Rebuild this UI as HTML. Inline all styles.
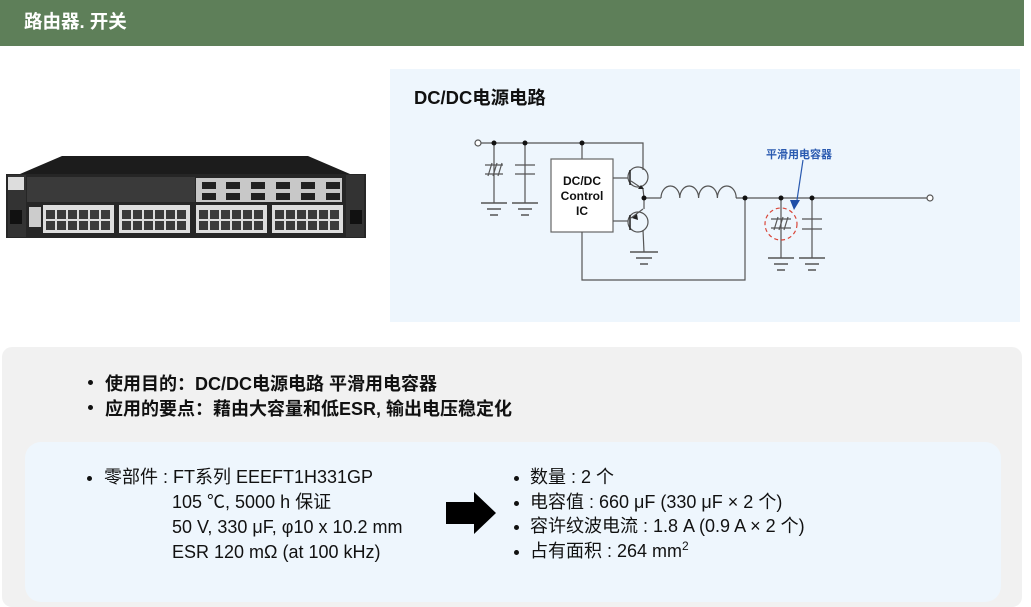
<!DOCTYPE html>
<html><head><meta charset="utf-8"><style>
body{margin:0;width:1031px;height:590px;background:#fff;position:relative;overflow:hidden;font-family:"Liberation Sans","Noto Sans CJK SC",sans-serif}
.a{position:absolute}
.hdr{left:0;top:0;width:1024px;height:46px;background:#5e7f59;color:#fff;font-weight:bold;font-size:18.5px;line-height:44px;padding-left:24px;box-sizing:border-box}
.cp{left:390px;top:69px;width:630px;height:253px;background:#eef6fd}
.gp{left:2px;top:347px;width:1020px;height:260px;background:#f1f1f1;border-radius:10px}
.bp{left:25px;top:442px;width:976px;height:160px;background:#eef6fd;border-radius:16px}
.t{font-size:18px;color:#111;white-space:nowrap}
.b{font-weight:bold}
.dot{position:absolute;width:5px;height:5px;border-radius:50%;background:#111}
</style></head><body>
<div class="a hdr">路由器. 开关</div>
<div class="a cp"></div>
<div class="a gp"></div>
<div class="a bp"></div>

<!-- router -->
<svg class="a" style="left:0;top:150px" width="372" height="92">
<polygon points="62,6 308,6 350,24 20,24" fill="#1c1c1c"/>
<rect x="6" y="24" width="360" height="64" fill="#262626"/>
<rect x="8" y="25" width="18" height="62" fill="#333"/>
<rect x="346" y="25" width="18" height="62" fill="#333"/>
<rect x="8" y="27" width="16" height="13" fill="#ddd"/>
<rect x="27" y="27" width="168" height="25" fill="#3a3a3a"/>
<rect x="196" y="28" width="146" height="24" fill="#c8c8c8"/>
<g fill="#222"><rect x="202" y="32" width="14" height="7"/><rect x="226" y="32" width="14" height="7"/><rect x="251" y="32" width="14" height="7"/><rect x="276" y="32" width="14" height="7"/><rect x="301" y="32" width="14" height="7"/><rect x="326" y="32" width="14" height="7"/>
<rect x="202" y="43" width="14" height="7"/><rect x="226" y="43" width="14" height="7"/><rect x="251" y="43" width="14" height="7"/><rect x="276" y="43" width="14" height="7"/><rect x="301" y="43" width="14" height="7"/><rect x="326" y="43" width="14" height="7"/></g>
<rect x="43" y="55" width="71" height="28" fill="#ddd"/><rect x="119" y="55" width="71" height="28" fill="#ddd"/>
<rect x="196" y="55" width="71" height="28" fill="#ddd"/><rect x="272" y="55" width="71" height="28" fill="#ddd"/>
<g fill="#3a3a3a">
<rect x="46" y="60" width="9" height="9"/><rect x="57" y="60" width="9" height="9"/><rect x="68" y="60" width="9" height="9"/><rect x="79" y="60" width="9" height="9"/><rect x="90" y="60" width="9" height="9"/><rect x="101" y="60" width="9" height="9"/>
<rect x="46" y="71" width="9" height="9"/><rect x="57" y="71" width="9" height="9"/><rect x="68" y="71" width="9" height="9"/><rect x="79" y="71" width="9" height="9"/><rect x="90" y="71" width="9" height="9"/><rect x="101" y="71" width="9" height="9"/>
<rect x="122" y="60" width="9" height="9"/><rect x="133" y="60" width="9" height="9"/><rect x="144" y="60" width="9" height="9"/><rect x="155" y="60" width="9" height="9"/><rect x="166" y="60" width="9" height="9"/><rect x="177" y="60" width="9" height="9"/>
<rect x="122" y="71" width="9" height="9"/><rect x="133" y="71" width="9" height="9"/><rect x="144" y="71" width="9" height="9"/><rect x="155" y="71" width="9" height="9"/><rect x="166" y="71" width="9" height="9"/><rect x="177" y="71" width="9" height="9"/>
<rect x="199" y="60" width="9" height="9"/><rect x="210" y="60" width="9" height="9"/><rect x="221" y="60" width="9" height="9"/><rect x="232" y="60" width="9" height="9"/><rect x="243" y="60" width="9" height="9"/><rect x="254" y="60" width="9" height="9"/>
<rect x="199" y="71" width="9" height="9"/><rect x="210" y="71" width="9" height="9"/><rect x="221" y="71" width="9" height="9"/><rect x="232" y="71" width="9" height="9"/><rect x="243" y="71" width="9" height="9"/><rect x="254" y="71" width="9" height="9"/>
<rect x="275" y="60" width="9" height="9"/><rect x="286" y="60" width="9" height="9"/><rect x="297" y="60" width="9" height="9"/><rect x="308" y="60" width="9" height="9"/><rect x="319" y="60" width="9" height="9"/><rect x="330" y="60" width="9" height="9"/>
<rect x="275" y="71" width="9" height="9"/><rect x="286" y="71" width="9" height="9"/><rect x="297" y="71" width="9" height="9"/><rect x="308" y="71" width="9" height="9"/><rect x="319" y="71" width="9" height="9"/><rect x="330" y="71" width="9" height="9"/></g>
<rect x="29" y="57" width="12" height="20" fill="#ccc"/>
<rect x="10" y="60" width="12" height="14" fill="#111"/><rect x="350" y="60" width="12" height="14" fill="#111"/>
</svg>

<!-- circuit -->
<div class="a b" style="left:414px;top:84px;font-size:18.4px;color:#111">DC/DC电源电路</div>
<svg class="a" style="left:0;top:0" width="1031" height="330" fill="none" stroke="#555" stroke-width="1.2">
<polyline points="480,143 643,143 643,170"/>
<circle cx="478" cy="143" r="3" fill="#fff"/>
<line x1="494" y1="143" x2="494" y2="203"/><line x1="525" y1="143" x2="525" y2="203"/>
<line x1="485" y1="165" x2="503" y2="165"/><line x1="485" y1="174" x2="503" y2="174"/>
<line x1="488" y1="176" x2="492" y2="163"/><line x1="493" y1="176" x2="497" y2="163"/><line x1="498" y1="176" x2="502" y2="163"/>
<line x1="515" y1="165" x2="535" y2="165"/><line x1="515" y1="174" x2="535" y2="174"/>
<g stroke-width="1.5"><line x1="481" y1="203" x2="507" y2="203"/><line x1="487" y1="209" x2="501" y2="209"/><line x1="490" y1="215" x2="498" y2="215"/>
<line x1="512" y1="203" x2="538" y2="203"/><line x1="518" y1="209" x2="532" y2="209"/><line x1="521" y1="215" x2="529" y2="215"/></g>
<line x1="582" y1="143" x2="582" y2="159"/>
<rect x="551" y="159" width="62" height="73" fill="#fff" stroke="#666"/>
<line x1="613" y1="178" x2="628" y2="178"/><line x1="613" y1="221" x2="628" y2="221"/>
<circle cx="638" cy="177" r="10"/><circle cx="638" cy="222" r="10"/>
<line x1="630" y1="170" x2="630" y2="185" stroke="#222" stroke-width="1.5"/>
<line x1="630" y1="215" x2="630" y2="230" stroke="#222" stroke-width="1.5"/>
<line x1="631" y1="181" x2="643" y2="189"/><line x1="631" y1="218" x2="643" y2="209"/>
<polygon points="644,189 638,189 641,185" fill="#222" stroke="none"/>
<polygon points="632,218 637,214 638,220" fill="#222" stroke="none"/>
<polyline points="643,189 644,198 644,209"/>
<polyline points="643,230 644,252"/>
<g stroke-width="1.5"><line x1="630" y1="252" x2="658" y2="252"/><line x1="636" y1="258" x2="652" y2="258"/><line x1="640" y1="264" x2="648" y2="264"/></g>
<line x1="644" y1="198" x2="661" y2="198"/>
<path d="M661,198 a9.4,12 0 0 1 18.8,0 a9.4,12 0 0 1 18.8,0 a9.4,12 0 0 1 18.8,0 a9.4,12 0 0 1 18.8,0"/>
<line x1="736" y1="198" x2="928" y2="198"/>
<circle cx="930" cy="198" r="3" fill="#fff"/>
<polyline points="745,198 745,280 582,280 582,232"/>
<line x1="781" y1="198" x2="781" y2="258"/><line x1="812" y1="198" x2="812" y2="258"/>
<line x1="771" y1="219" x2="791" y2="219"/><line x1="771" y1="228" x2="791" y2="228"/>
<line x1="774" y1="230" x2="778" y2="217"/><line x1="779" y1="230" x2="783" y2="217"/><line x1="784" y1="230" x2="788" y2="217"/>
<line x1="802" y1="219" x2="822" y2="219"/><line x1="802" y1="229" x2="822" y2="229"/>
<g stroke-width="1.5"><line x1="768" y1="258" x2="794" y2="258"/><line x1="774" y1="264" x2="788" y2="264"/><line x1="777" y1="270" x2="785" y2="270"/>
<line x1="799" y1="258" x2="825" y2="258"/><line x1="805" y1="264" x2="819" y2="264"/><line x1="808" y1="270" x2="816" y2="270"/></g>
<circle cx="781" cy="224" r="16" stroke="#d9473a" stroke-dasharray="4,3"/>
<line x1="803" y1="160" x2="797" y2="200" stroke="#2a5ab0"/>
<polygon points="790,200 800,200 794,210" fill="#1f4fa8" stroke="none"/>
<g fill="#111" stroke="none"><circle cx="494" cy="143" r="2.5"/><circle cx="525" cy="143" r="2.5"/><circle cx="582" cy="143" r="2.5"/><circle cx="644" cy="198" r="2.5"/><circle cx="745" cy="198" r="2.5"/><circle cx="781" cy="198" r="2.5"/><circle cx="812" cy="198" r="2.5"/></g>
</svg>
<div class="a b" style="left:551px;top:174px;width:62px;text-align:center;font-size:12px;line-height:15px;color:#111">DC/DC<br>Control<br>IC</div>
<div class="a b" style="left:766px;top:146px;font-size:11px;color:#2a5ab0">平滑用电容器</div>

<!-- bullets -->
<div class="dot" style="left:88px;top:380px"></div>
<div class="a t b" style="left:105px;top:370px">使用目的：DC/DC电源电路 平滑用电容器</div>
<div class="dot" style="left:88px;top:405px"></div>
<div class="a t b" style="left:105px;top:395px">应用的要点：藉由大容量和低ESR, 输出电压稳定化</div>

<div class="dot" style="left:87px;top:476px"></div>
<div class="a t" style="left:104px;top:465px;line-height:25px">零部件 : FT系列 EEEFT1H331GP<br><span style="padding-left:68px">105 ℃, 5000 h 保证</span><br><span style="padding-left:68px">50 V, 330 μF, φ10 x 10.2 mm</span><br><span style="padding-left:68px">ESR 120 mΩ (at 100 kHz)</span></div>

<svg class="a" style="left:444px;top:490px" width="56" height="46"><polygon points="2,12 30,12 30,2 52,23 30,44 30,34 2,34" fill="#000"/></svg>

<div class="dot" style="left:514px;top:476px"></div>
<div class="dot" style="left:514px;top:501px"></div>
<div class="dot" style="left:514px;top:525px"></div>
<div class="dot" style="left:514px;top:550px"></div>
<div class="a t" style="left:530px;top:465px;line-height:24.5px">数量 : 2 个<br>电容值 : 660 μF (330 μF × 2 个)<br>容许纹波电流 : 1.8 A (0.9 A × 2 个)<br>占有面积 : 264 mm<sup style="font-size:12px;line-height:0">2</sup></div>
</body></html>
